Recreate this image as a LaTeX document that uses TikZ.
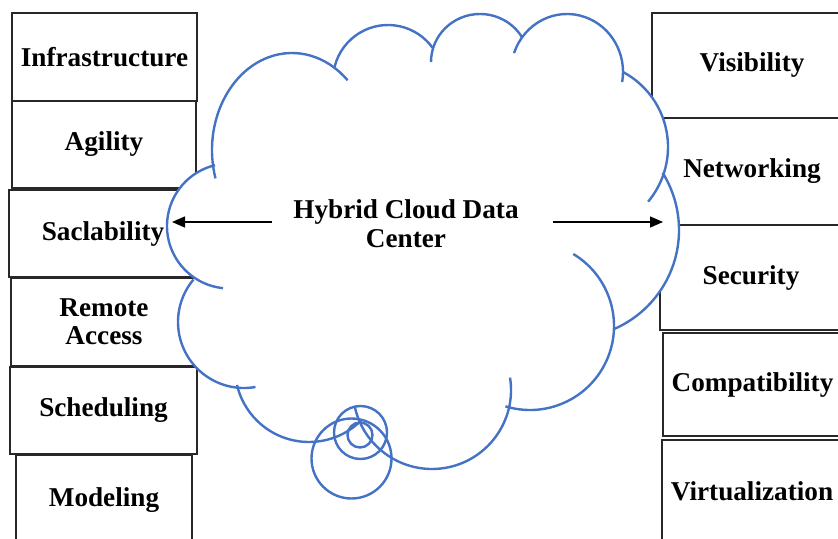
\documentclass[tikz,border=0pt]{standalone}
\usepackage{fontspec}
\setmainfont{Liberation Serif}
\usepackage{tikz}
\usetikzlibrary{arrows.meta}
\definecolor{cloudblue}{RGB}{68,114,196}
\definecolor{boxline}{RGB}{40,40,40}

\begin{document}
\begin{tikzpicture}[x=0.5pt,y=-0.5pt,
  lbl/.style={font=\fontsize{13.6}{14}\selectfont\bfseries, align=center},
  box/.style={lbl, draw=boxline, line width=1pt, inner sep=0pt},
  cloudline/.style={cloudblue, line width=1.2pt},
  arr/.style={-{Triangle[length=6.5pt,width=5.5pt]}, line width=0.7pt}]
\useasboundingbox (0,0) rectangle (838,539);
% left column
\node[box, minimum width=92.5pt, minimum height=44pt] (infra) at (104.5,57) {Infrastructure};
\node[box, minimum width=92pt, minimum height=43.5pt] (agility) at (104,144.5) {Agility};
\node[box, minimum width=94pt, minimum height=43.5pt] (scal) at (103,233.5) {Saclability};
\node[box, minimum width=93pt, minimum height=44pt] (remote) at (104,322) {Remote\\Access};
\node[box, minimum width=93.5pt, minimum height=43.5pt] (sched) at (103.5,410.5) {Scheduling};
\node[box, minimum width=88pt, minimum height=45pt] (model) at (104,500) {Modeling};
% right column
\node[box, minimum width=100pt, minimum height=52.5pt] (visib) at (752,65.5) {Visibility};
\node[box, minimum width=96pt, minimum height=53.5pt] (netw) at (752,171.5) {Networking};
\node[box, minimum width=91pt, minimum height=52.5pt] (secur) at (751,277.5) {Security};
\node[box, minimum width=89.5pt, minimum height=51.5pt] (compat) at (752.5,384.5) {Compatibility};
\node[box, minimum width=90pt, minimum height=51pt] (virt) at (752,491) {Virtualization};
% cloud body
\fill[white] (292,150) -- (388,80) -- (480,62) -- (567,72) -- (583,147) -- (571,230)
  -- (530,326) -- (432,390) -- (309,368) -- (244,322) -- (229.5,226) -- cycle;
\fill[white] (292,150) ellipse [x radius=80, y radius=97];
\fill[white] (388,80) circle [radius=55];
\fill[white] (480,62) ellipse [x radius=49, y radius=48];
\fill[white] (567,72) ellipse [x radius=56, y radius=58];
\fill[white] (583,147) circle [radius=85];
\fill[white] (571,230) circle [radius=108];
\fill[white] (530,326) circle [radius=84];
\fill[white] (432,390) circle [radius=79];
\fill[white] (309,368) circle [radius=74];
\fill[white] (244,322) circle [radius=66];
\fill[white] (229.5,226) circle [radius=62.5];
% cloud bumps
\draw[cloudline] (292,150) ++(163:80 and 97) arc [start angle=163, end angle=314, x radius=80, y radius=97];
\draw[cloudline] (388,80) ++(194:55) arc [start angle=194, end angle=324, radius=55];
\draw[cloudline] (480,62) ++(180:49 and 48) arc [start angle=180, end angle=329, x radius=49, y radius=48];
\draw[cloudline] (567,72) ++(199:56 and 58) arc [start angle=199, end angle=370, x radius=56, y radius=58];
\draw[cloudline] (583,147) ++(298:85) arc [start angle=298, end angle=400, radius=85];
\draw[cloudline] (571,230) ++(328:108) arc [start angle=328, end angle=427, radius=108];
\draw[cloudline] (530,326) ++(301:84) arc [start angle=301, end angle=467, radius=84];
\draw[cloudline] (432,390) ++(351:79) arc [start angle=351, end angle=527.5, radius=79];
\draw[cloudline] (309,368) ++(44.5:74) arc [start angle=44.5, end angle=166.7, radius=74];
\draw[cloudline] (244,322) ++(80:66) arc [start angle=80, end angle=220, radius=66];
\draw[cloudline] (229.5,226) ++(96:62.5) arc [start angle=96, end angle=256.6, radius=62.5];
% little bubbles under the cloud
\draw[cloudline] (360,435) circle [radius=12.5];
\draw[cloudline] (360.5,432.5) circle [radius=26.5];
\draw[cloudline] (351.5,458.5) circle [radius=40];
% centre text and arrows
\node[lbl, inner sep=0pt, font=\fontsize{13.6}{14.5}\selectfont\bfseries] (hub) at (406,224) {Hybrid Cloud Data\\Center};
\coordinate (ltip) at (172,222);
\coordinate (rtip) at (663,222);
\draw[arr, shorten <=10.5pt] (hub.west |- ltip) -- (ltip);
\draw[arr, shorten <=17pt] (hub.east |- rtip) -- (rtip);
\end{tikzpicture}
\end{document}
